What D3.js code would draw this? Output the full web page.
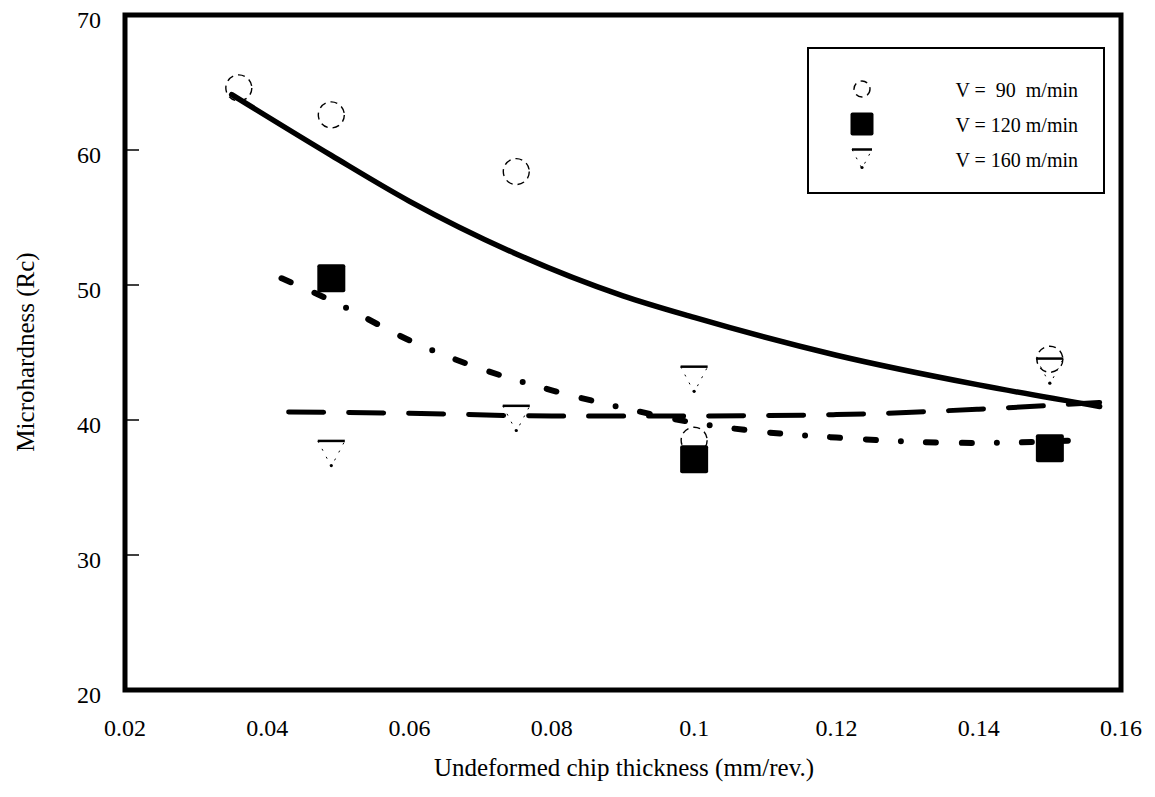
<!DOCTYPE html>
<html>
<head>
<meta charset="utf-8">
<script src="https://cdn.jsdelivr.net/npm/d3@7/dist/d3.min.js"></script>
<style>
  body { margin: 0; background: #fff; }
  svg { display: block; }
  text { font-family: "Liberation Serif", "Times New Roman", serif; fill: #000; }
</style>
</head>
<body>
<svg id="chart" width="1155" height="797"></svg>
<script>
'use strict';

// axis ticks
var xTicks = [0.02, 0.04, 0.06, 0.08, 0.1, 0.12, 0.14, 0.16];
var yTicks = [20, 30, 40, 50, 60, 70];

// measured points, [chip thickness, microhardness]
var v90Points = [[0.036, 64.6], [0.049, 62.6], [0.075, 58.4], [0.1, 38.5], [0.15, 44.5]];
var v120Points = [[0.049, 50.5], [0.1, 37.1], [0.15, 37.9]];
var v160Points = [[0.049, 37.5], [0.075, 40.1], [0.1, 43.0], [0.15, 43.6]];

// fitted curves
var v90Fit = [[0.035, 64.1], [0.049, 59.6], [0.06, 56.2], [0.075, 52.3], [0.09, 49.2], [0.1, 47.6],
  [0.12, 44.8], [0.14, 42.6], [0.157, 41.0]];
var v120Fit = [[0.042, 50.5], [0.05, 48.6], [0.06, 45.9], [0.07, 43.8], [0.08, 42.2], [0.09, 40.9],
  [0.1, 39.8], [0.11, 39.1], [0.12, 38.7], [0.13, 38.4], [0.14, 38.3], [0.154, 38.5]];
var v160Fit = [[0.043, 40.6], [0.06, 40.5], [0.08, 40.3], [0.1, 40.3], [0.12, 40.4], [0.14, 40.8], [0.157, 41.3]];

var legendLabels = ['V =  90  m/min', 'V = 120 m/min', 'V = 160 m/min'];

var svg = d3.select('#chart');

var x = d3.scaleLinear().domain([0.02, 0.16]).range([125, 1121]);
var y = d3.scaleLinear().domain([20, 70]).range([690, 15]);

// y ticks (inside, left only)
svg.append('g').selectAll('line')
  .data(yTicks.filter(function (d) { return d > 20 && d < 70; }))
  .enter().append('line')
  .attr('x1', x(0.02)).attr('x2', x(0.02) + 14)
  .attr('y1', function (d) { return y(d); })
  .attr('y2', function (d) { return y(d); })
  .attr('stroke', '#000').attr('stroke-width', 1.5);

svg.append('g').selectAll('text')
  .data(yTicks)
  .enter().append('text')
  .attr('x', 101)
  .attr('y', function (d) { return y(d) + 13; })
  .attr('text-anchor', 'end')
  .style('font-size', '24px')
  .text(function (d) { return d; });

svg.append('g').selectAll('text')
  .data(xTicks)
  .enter().append('text')
  .attr('x', function (d) { return x(d); })
  .attr('y', 736)
  .attr('text-anchor', 'middle')
  .style('font-size', '24px')
  .text(function (d) { return d3.format('')(d); });

// axis titles
svg.append('text')
  .attr('x', 624).attr('y', 776)
  .attr('text-anchor', 'middle')
  .style('font-size', '25px')
  .text('Undeformed chip thickness (mm/rev.)');

svg.append('text')
  .attr('transform', 'translate(34,352) rotate(-90)')
  .attr('text-anchor', 'middle')
  .style('font-size', '25px')
  .text('Microhardness (Rc)');

// fitted lines
var line = d3.line()
  .x(function (d) { return x(d[0]); })
  .y(function (d) { return y(d[1]); })
  .curve(d3.curveMonotoneX);

svg.append('path').datum(v90Fit)
  .attr('d', line).attr('fill', 'none')
  .attr('stroke', '#000').attr('stroke-width', 5.5)
  .attr('stroke-linecap', 'round');

svg.append('path').datum(v120Fit)
  .attr('d', line).attr('fill', 'none')
  .attr('stroke', '#000').attr('stroke-width', 6)
  .attr('stroke-linecap', 'round')
  .attr('stroke-dasharray', '10,26,10,25,0,25');

svg.append('path').datum(v160Fit)
  .attr('d', line).attr('fill', 'none')
  .attr('stroke', '#000').attr('stroke-width', 5)
  .attr('stroke-linecap', 'round')
  .attr('stroke-dasharray', '35,25');

// markers
function circleMarker (g, r) {
  g.append('circle').attr('r', r)
    .attr('fill', 'none').attr('stroke', '#000')
    .attr('stroke-width', 1.4).attr('stroke-dasharray', '7,5');
}

function triangleMarker (g, s) {
  var h = s * 0.95;
  g.append('path')
    .attr('d', 'M' + (-s / 2) + ',' + (-h / 2) + 'L0,' + (h / 2) + 'L' + (s / 2) + ',' + (-h / 2))
    .attr('fill', 'none').attr('stroke', '#000')
    .attr('stroke-width', 1).attr('stroke-dasharray', '2,7');
  g.append('line')
    .attr('x1', -s / 2).attr('x2', s / 2)
    .attr('y1', -h / 2).attr('y2', -h / 2)
    .attr('stroke', '#000').attr('stroke-width', 2.5);
  g.append('circle').attr('cy', h / 2 - 1).attr('r', 1.6).attr('fill', '#000');
}

function squareMarker (g, s) {
  g.append('rect')
    .attr('x', -s / 2).attr('y', -s / 2)
    .attr('width', s).attr('height', s)
    .attr('rx', 2).attr('fill', '#000');
}

svg.append('g').selectAll('g')
  .data(v90Points)
  .enter().append('g')
  .attr('transform', function (d) { return 'translate(' + x(d[0]) + ',' + y(d[1]) + ')'; })
  .each(function () { circleMarker(d3.select(this), 13); });

svg.append('g').selectAll('g')
  .data(v160Points)
  .enter().append('g')
  .attr('transform', function (d) { return 'translate(' + x(d[0]) + ',' + y(d[1]) + ')'; })
  .each(function () { triangleMarker(d3.select(this), 27); });

svg.append('g').selectAll('g')
  .data(v120Points)
  .enter().append('g')
  .attr('transform', function (d) { return 'translate(' + x(d[0]) + ',' + y(d[1]) + ')'; })
  .each(function () { squareMarker(d3.select(this), 28); });

// legend
var legend = svg.append('g');
legend.append('rect')
  .attr('x', 808).attr('y', 48)
  .attr('width', 296).attr('height', 145)
  .attr('fill', '#fff').attr('stroke', '#000').attr('stroke-width', 2);

var rows = legend.selectAll('g.row')
  .data(legendLabels)
  .enter().append('g')
  .attr('class', 'row')
  .attr('transform', function (d, i) { return 'translate(0,' + (89 + i * 35) + ')'; });

rows.append('text')
  .attr('x', 1078).attr('y', 8)
  .attr('text-anchor', 'end')
  .attr('xml:space', 'preserve')
  .style('font-size', '20px')
  .style('white-space', 'pre')
  .text(function (d) { return d; });

rows.each(function (d, i) {
  var g = d3.select(this).append('g').attr('transform', 'translate(862,0)');
  if (i === 0) circleMarker(g, 8);
  else if (i === 1) squareMarker(g, 23);
  else triangleMarker(g, 20);
});

// plot frame
svg.append('rect')
  .attr('x', x(0.02)).attr('y', y(70))
  .attr('width', x(0.16) - x(0.02))
  .attr('height', y(20) - y(70))
  .attr('fill', 'none').attr('stroke', '#000').attr('stroke-width', 5);
</script>
</body>
</html>
